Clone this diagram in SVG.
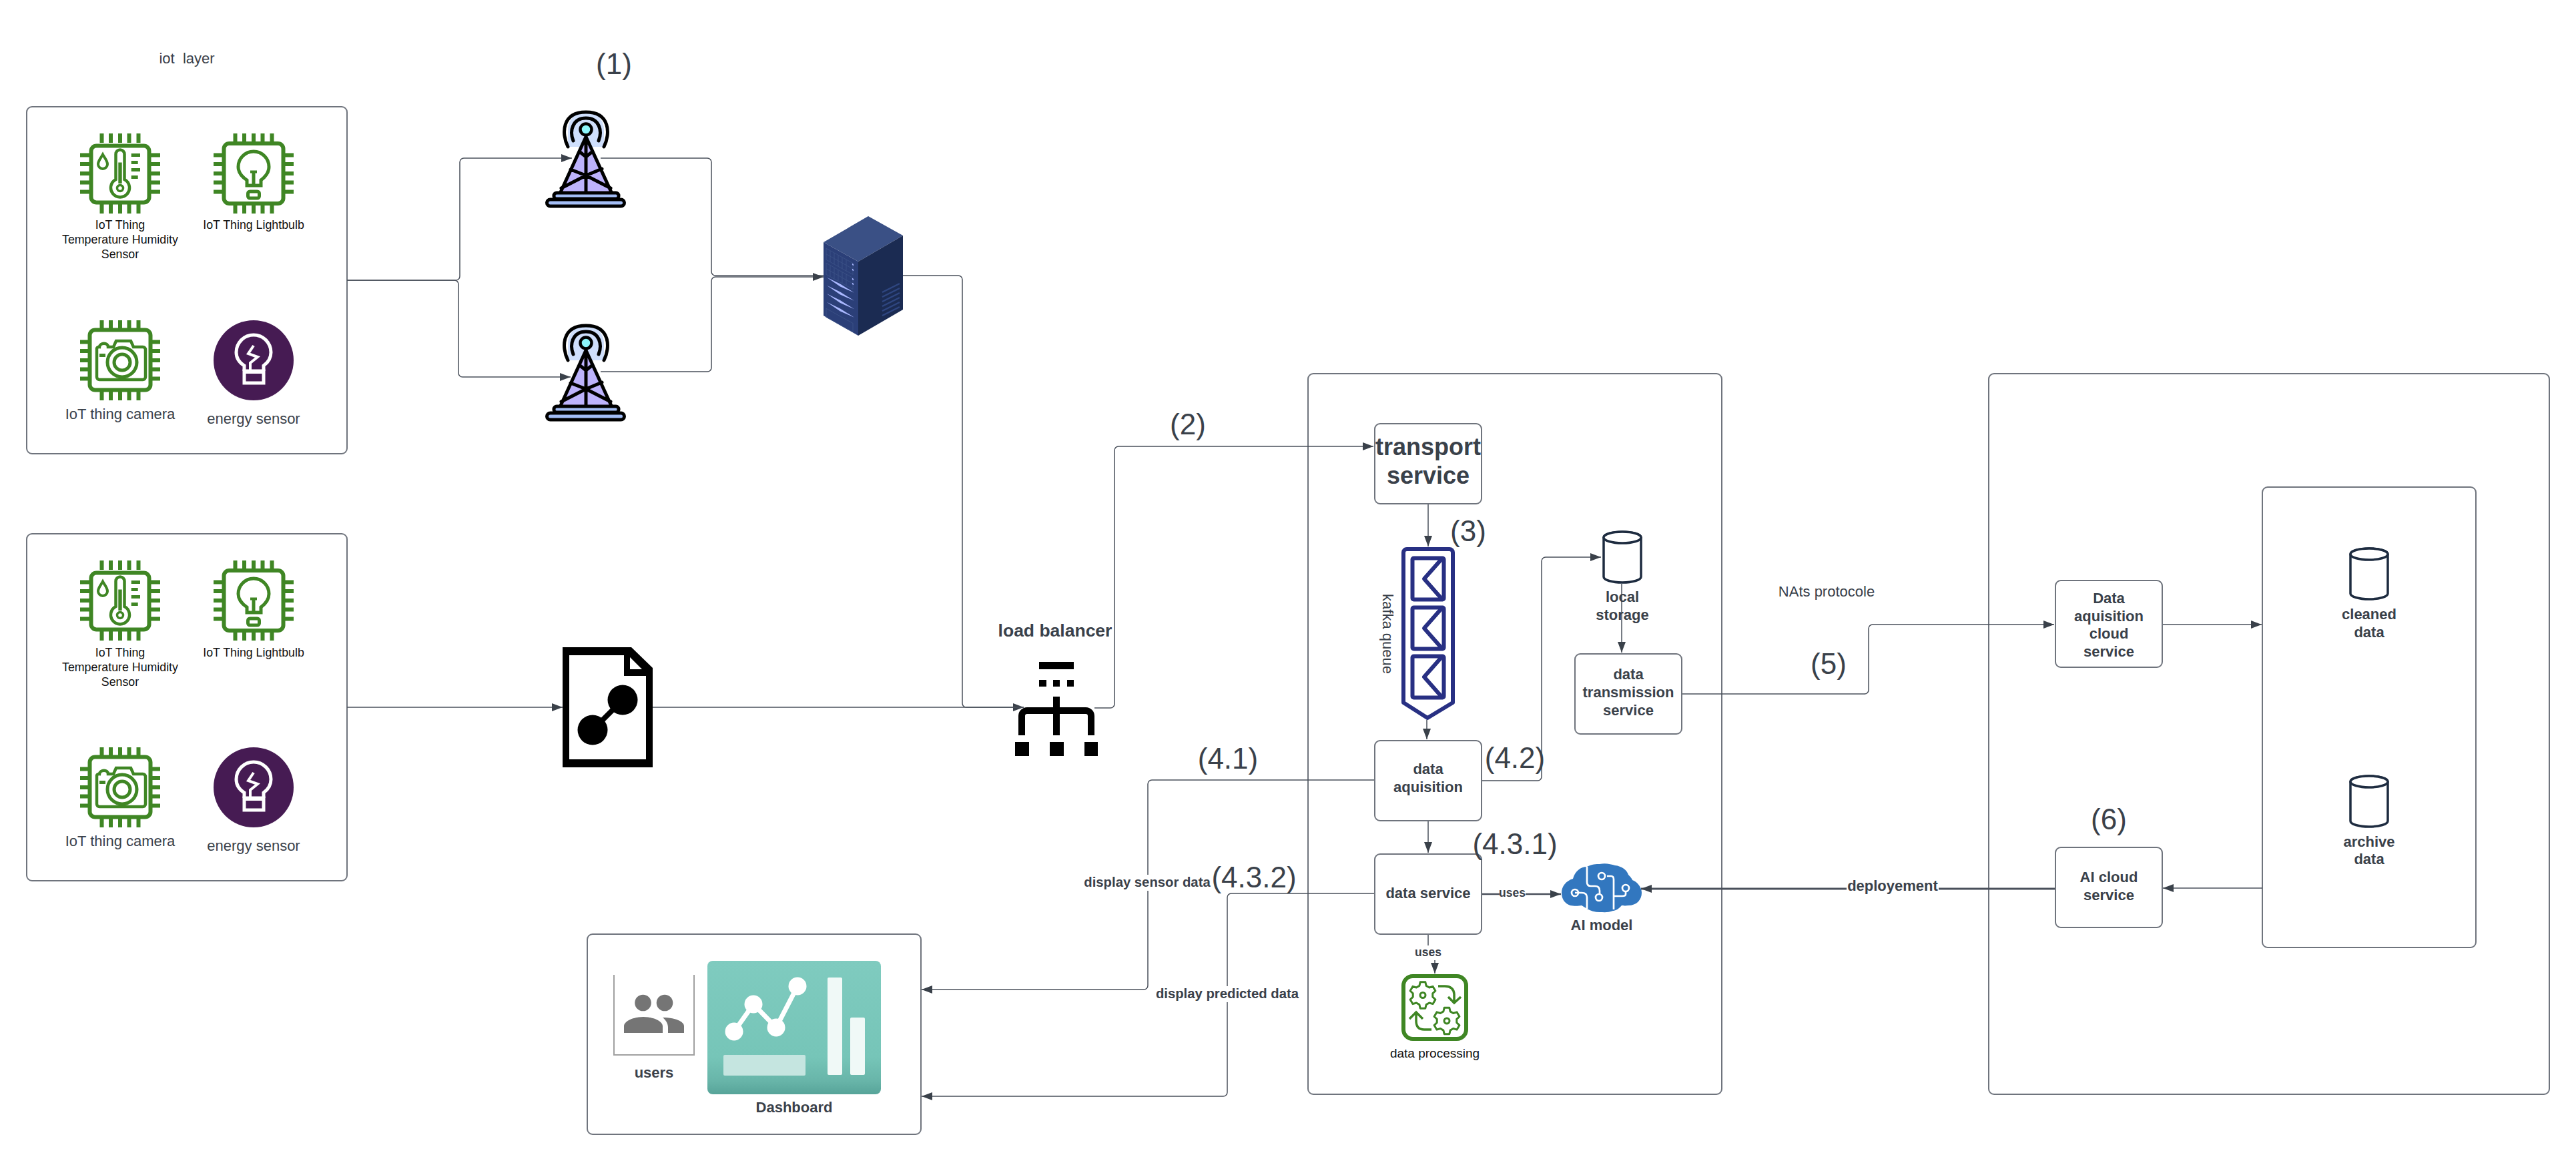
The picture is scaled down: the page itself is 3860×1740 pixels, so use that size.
<svg xmlns="http://www.w3.org/2000/svg" width="3860" height="1740" viewBox="0 0 3860 1740">
<style>
text{font-family:"Liberation Sans",Arial,sans-serif;fill:#3a414a;text-anchor:middle;white-space:pre}
.b{font-weight:700}
.s22{font-size:22px}
.s18{font-size:17.8px;fill:#111}
.n{font-size:44px}
.box{fill:#fff;stroke:#6f747d;stroke-width:2}
.conn{fill:none;stroke:#4a505b;stroke-width:1.5}
.g{fill:none;stroke:#3f8624;stroke-width:6}
.gf{fill:#3f8624}
.cyl{fill:#fff;stroke:#1e2c40;stroke-width:3.5}
.tk{fill:none;stroke:#000;stroke-width:5;stroke-linecap:round;stroke-linejoin:round}
.ky{fill:none;stroke:#283083;stroke-width:6;stroke-linejoin:round}
.w{fill:none;stroke:#fff;stroke-width:2.7}
.gear{fill:none;stroke:#3f8624;stroke-width:3;stroke-linejoin:round}
</style>
<defs>
<marker id="a" markerUnits="userSpaceOnUse" markerWidth="16" markerHeight="12" refX="16" refY="6" orient="auto"><path d="M0,0L16,6L0,12Z" fill="#3a414a"/></marker>
<linearGradient id="teal" x1="0" y1="0" x2="0" y2="1"><stop offset="0" stop-color="#7fcbbf"/><stop offset=".72" stop-color="#76c5b8"/><stop offset=".9" stop-color="#68b5a9"/><stop offset="1" stop-color="#57a499"/></linearGradient>
<g id="pins"><path class="gf" d="M29.500,0h6v14h-6zM43,0h6v14h-6zM57,0h6v14h-6zM70.500,0h6v14h-6zM84.500,0h6v14h-6zM29.500,106h6v14h-6zM43,106h6v14h-6zM57,106h6v14h-6zM70.500,106h6v14h-6zM84.500,106h6v14h-6zM0,29.500h14v6h-14zM0,43h14v6h-14zM0,57h14v6h-14zM0,70.500h14v6h-14zM0,84.500h14v6h-14zM106,29.500h14v6h-14zM106,43h14v6h-14zM106,57h14v6h-14zM106,70.500h14v6h-14zM106,84.500h14v6h-14z"/></g>
<g id="chipTemp"><use href="#pins"/><rect class="g" x="16.500" y="18.500" width="87" height="85" rx="8"/>
<path class="g" style="stroke-width:4.500" d="M53.500,69V31a6.500,6.500 0 0 1 13,0V69a14,14 0 1 1-13,0Z"/><path class="gf" d="M57.300,43.500h5.400V75h-5.400z"/><circle cx="60" cy="82" r="4.500" fill="#fff" stroke="#3f8624" stroke-width="3.500"/>
<path class="g" style="stroke-width:4" d="M34,31.500C31,37 27,41 27,46a7,7 0 0 0 14,0C41,41 37,37 34,31.500Z"/>
<path class="gf" d="M76.700,30h13.300v5h-13.300zM76.700,41h10v5h-10zM76.700,52h13.300v5h-13.300zM76.700,63h10v5h-10z"/></g>
<g id="chipBulb"><use href="#pins"/><rect class="g" x="15.500" y="15" width="89" height="90" rx="8"/>
<path class="g" style="stroke-width:5" d="M50,78V70C41,64 37,58 37,50a23,23 0 0 1 46,0C83,58 79,64 71,70V78Z"/><path class="gf" d="M55,55.500h10v4h-2.500V78h-5V59.500h-2.500z"/><rect class="g" style="stroke-width:5" x="51.500" y="87" width="17" height="10" rx="3"/></g>
<g id="chipCam"><use href="#pins"/><rect class="g" x="14.500" y="14.500" width="91" height="90" rx="8"/>
<path class="g" style="stroke-width:4.500" d="M25,42V85a4,4 0 0 0 4,4H94a4,4 0 0 0 4-4V44a4,4 0 0 0-4-4H80L76,31H54L50,40H42C42,33 30,33 29,40A4,4 0 0 0 25,42Z"/><circle class="g" style="stroke-width:5" cx="63" cy="63" r="22"/><circle class="g" style="stroke-width:5" cx="63" cy="63" r="12"/><path class="gf" d="M29,50h9v5h-9z"/></g>
<g id="energy"><circle cx="60" cy="60" r="60" fill="#461b53"/><path fill="none" stroke="#fff" stroke-width="5" d="M46,76V68C38,63 34,57 34,48a26,26 0 0 1 52,0C86,57 82,63 75,68V76"/><path fill="none" stroke="#fff" stroke-width="4" d="M60,38L52,50L66,55L55,64V74"/><rect x="46" y="76" width="29" height="18" fill="#461b53" stroke="#fff" stroke-width="5"/><path fill="#fff" d="M46,74h29v6H46z"/></g>
<g id="cyl"><path class="cyl" d="M2,10.500A28,8.500 0 0 1 58,10.500V69.500A28,8.500 0 0 1 2,69.500Z"/><ellipse class="cyl" cx="30" cy="10.500" rx="28" ry="8.500"/></g>
<g id="tower"><path fill="#cfdffc" d="M851,220V194a27,27 0 0 1 54,0V220Z"/><path fill="#bdb3fc" d="M878,205L840,288H916Z"/><circle cx="878" cy="194" r="8.500" fill="#8cf6fb" stroke="#000" stroke-width="4.500"/>
<path class="tk" d="M851,220C841,200 842,168 878,168C914,168 915,200 905,220M859,211C853,196 858,177 878,177C898,177 903,196 897,211M878,205L840,288M878,205L916,288M878,205V288M855,254L878,263L902,253M841,282L878,263L915,282M868,227L878,235L888,227"/>
<rect x="830" y="289" width="97" height="9" rx="4" fill="#a3bdf5" stroke="#000" stroke-width="5"/><rect x="819.500" y="299" width="116" height="10" rx="5" fill="#a3bdf5" stroke="#000" stroke-width="5"/></g>
<path id="gearShape" class="gear" d="M14.770,2.600L18.910,6.510L15.090,13.120L9.640,11.490L5.130,14.100L3.820,19.630L-3.820,19.630L-5.130,14.100L-9.640,11.490L-15.090,13.120L-18.910,6.510L-14.770,2.600L-14.770,-2.600L-18.910,-6.510L-15.090,-13.120L-9.640,-11.490L-5.130,-14.100L-3.820,-19.630L3.820,-19.630L5.130,-14.100L9.640,-11.490L15.090,-13.120L18.910,-6.510L14.770,-2.600Z"/>
</defs>

<rect width="3860" height="1740" fill="#fff"/>

<g id="iot-box-1"><rect class="box" x="40" y="160" width="480" height="520" rx="8"/></g>
<g id="iot-box-2"><rect class="box" x="40" y="800" width="480" height="520" rx="8"/></g>
<g id="edge-box"><rect class="box" x="1960" y="560" width="620" height="1080" rx="8"/></g>
<g id="cloud-box"><rect class="box" x="2980" y="560" width="840" height="1080" rx="8"/></g>
<g id="dashboard-box"><rect class="box" x="880" y="1400" width="500" height="300" rx="8"/></g>
<g id="storage-box"><rect class="box" x="3390" y="730" width="320" height="690" rx="8"/></g>

<g id="connectors">
<path class="conn" marker-end="url(#a)" d="M520,420H683a6,6 0 0 0 6-6V243a6,6 0 0 1 6-6H857"/>
<path class="conn" marker-end="url(#a)" d="M520,420H681a6,6 0 0 1 6,6V559a6,6 0 0 0 6,6H855"/>
<path class="conn" d="M900,237H1060a6,6 0 0 1 6,6V407a6,6 0 0 0 6,6H1234"/>
<path class="conn" marker-end="url(#a)" d="M900,557H1060a6,6 0 0 0 6-6V421a6,6 0 0 1 6-6H1234"/>
<path class="conn" marker-end="url(#a)" d="M1353,413H1436a6,6 0 0 1 6,6V1054a6,6 0 0 0 6,6H1534"/>
<path class="conn" marker-end="url(#a)" d="M520,1060H843"/>
<path class="conn" d="M978,1060H1534"/>
<path class="conn" marker-end="url(#a)" d="M1640,1061H1664a6,6 0 0 0 6-6V675a6,6 0 0 1 6-6H2058"/>
<path class="conn" marker-end="url(#a)" d="M2140,755V819"/>
<path class="conn" marker-end="url(#a)" d="M2138,1079V1108"/>
<path class="conn" marker-end="url(#a)" d="M2140,1230V1278"/>
<path class="conn" marker-end="url(#a)" d="M2220,1170H2304a6,6 0 0 0 6-6V841a6,6 0 0 1 6-6H2399"/>
<path class="conn" marker-end="url(#a)" d="M2430,875V978"/>
<path class="conn" marker-end="url(#a)" d="M2520,1040H2794a6,6 0 0 0 6-6V942a6,6 0 0 1 6-6H3078"/>
<path class="conn" marker-end="url(#a)" d="M3240,936H3389"/>
<path class="conn" marker-end="url(#a)" d="M3390,1331H3241"/>
<path class="conn" style="stroke-width:3" marker-end="url(#a)" d="M3080,1332H2459"/>
<path class="conn" style="stroke-width:2.500" marker-end="url(#a)" d="M2220,1340H2339"/>
<path class="conn" marker-end="url(#a)" d="M2140,1400V1430H2150V1459"/>
<path class="conn" marker-end="url(#a)" d="M2060,1169H1726a6,6 0 0 0-6,6V1477a6,6 0 0 1-6,6H1381"/>
<path class="conn" marker-end="url(#a)" d="M2060,1339H1845a6,6 0 0 0-6,6V1637a6,6 0 0 1-6,6H1381"/>
</g>

<text class="s22" x="280" y="95">iot  layer</text>
<g id="label-n1"><text class="n" x="920" y="111">(1)</text></g>

<g id="temp-sensor-1"><use href="#chipTemp" x="120" y="200"/><text class="s18" x="180" y="343">IoT Thing</text><text class="s18" x="180" y="365">Temperature Humidity</text><text class="s18" x="180" y="387">Sensor</text></g>
<g id="lightbulb-1"><use href="#chipBulb" x="320" y="200"/><text class="s18" x="380" y="343">IoT Thing Lightbulb</text></g>
<g id="camera-1"><use href="#chipCam" x="120" y="480"/><text class="s22" x="180" y="628">IoT thing camera</text></g>
<g id="energy-1"><use href="#energy" x="320" y="480"/><text class="s22" x="380" y="635">energy sensor</text></g>

<g id="temp-sensor-2"><use href="#chipTemp" x="120" y="840"/><text class="s18" x="180" y="984">IoT Thing</text><text class="s18" x="180" y="1006">Temperature Humidity</text><text class="s18" x="180" y="1028">Sensor</text></g>
<g id="lightbulb-2"><use href="#chipBulb" x="320" y="840"/><text class="s18" x="380" y="984">IoT Thing Lightbulb</text></g>
<g id="camera-2"><use href="#chipCam" x="120" y="1120"/><text class="s22" x="180" y="1268">IoT thing camera</text></g>
<g id="energy-2"><use href="#energy" x="320" y="1120"/><text class="s22" x="380" y="1275">energy sensor</text></g>

<g id="tower-1"><use href="#tower"/></g>
<g id="tower-2"><use href="#tower" y="320"/></g>

<g id="server">
<path fill="#3a5085" d="M1301,324L1353,353L1286,392L1234,363Z"/>
<path fill="#2b3f78" d="M1234,363L1286,392V503L1234,473Z"/>
<path fill="#1b2b52" d="M1286,392L1353,353V464L1286,503Z"/>
<g transform="matrix(1 .558 0 1 1234 363)">
<path fill="none" stroke="#3a5085" stroke-width="1" d="M4,7h40v17H4zM4,15.500h40M10,7v17M16,7v17M22,7v17M28,7v17M34,7v17M4,29h40v17H4zM4,37.500h40M10,29v17M16,29v17M22,29v17M28,29v17M34,29v17M4,97h40v13H4z"/>
<path fill="#aab8ff" d="M5,50L25,48.500L46,50L25,52.500ZM5,62L25,60.500L46,62L25,64.500ZM5,74.500L25,73L46,74.500L25,77ZM5,87L25,85.500L46,87L25,89.500Z"/>
<circle cx="44" cy="9" r="1.200" fill="#aab8ff"/><circle cx="44" cy="17" r="1.200" fill="#aab8ff"/><circle cx="44" cy="31" r="1.200" fill="#aab8ff"/><circle cx="44" cy="38" r="1.200" fill="#aab8ff"/>
</g>
<path fill="none" stroke="#2f4680" stroke-width="2.500" d="M1322,438L1348,425M1322,445L1348,432M1322,452L1348,439M1322,459L1348,446M1322,466L1348,453M1322,473L1348,460"/>
</g>

<g id="file-icon"><path fill="#000" fill-rule="evenodd" d="M843,970H946L978,1001V1150H843ZM853,982V1138H968V1013H935V982Z"/><path fill="#fff" d="M944,985L962,1003H944Z"/><path fill="none" stroke="#000" stroke-width="8" d="M888,1094L933,1049"/><ellipse cx="933" cy="1049" rx="22.500" ry="22.500" fill="#000"/><ellipse cx="888" cy="1094" rx="22.500" ry="22.500" fill="#000"/></g>

<g id="load-balancer"><text class="s22 b" style="font-size:26.500px" x="1581" y="954">load balancer</text>
<path fill="#000" d="M1557,992h52v11h-52zM1557,1019h11v10h-11zM1578,1019h10v10h-10zM1599,1019h10v10h-10zM1578,1044h10v16h-10zM1521,1112h21v21h-21zM1573,1112h21v21h-21zM1625,1112h20v21h-20zM1578,1060h10v42h-10z"/>
<path fill="none" stroke="#000" stroke-width="10" d="M1531,1102V1073a8,8 0 0 1 8-8H1627a8,8 0 0 1 8,8V1102"/></g>

<g id="label-n2"><text class="n" x="1780" y="651">(2)</text></g>
<g id="transport"><rect class="box" x="2060" y="635" width="160" height="120" rx="8"/><text class="b" style="font-size:36px" x="2140" y="682">transport</text><text class="b" style="font-size:36px" x="2140" y="725">service</text></g>
<g id="label-n3"><text class="n" x="2200" y="811">(3)</text></g>
<g id="kafka"><path class="ky" d="M2108,823H2172a5,5 0 0 1 5,5V1053L2139,1076L2103,1053V828a5,5 0 0 1 5-5Z"/>
<rect class="ky" x="2116.500" y="836.500" width="47" height="62" rx="2"/><path class="ky" d="M2160,838L2134,867.500L2160,897"/>
<rect class="ky" x="2116.500" y="910.500" width="47" height="62" rx="2"/><path class="ky" d="M2160,912L2134,941.500L2160,971"/>
<rect class="ky" x="2116.500" y="983.500" width="47" height="62" rx="2"/><path class="ky" d="M2160,985L2134,1014.500L2160,1044"/>
<text class="s22" transform="translate(2072,950) rotate(90)" x="0" y="0">kafka queue</text></g>
<g id="acquisition"><rect class="box" x="2060" y="1110" width="160" height="120" rx="8"/><text class="s22 b" x="2140" y="1160">data</text><text class="s22 b" x="2140" y="1187">aquisition</text></g>
<g id="label-n42"><text class="n" x="2270" y="1151">(4.2)</text></g>
<g id="local-storage"><use href="#cyl" x="2401" y="795"/><text class="s22 b" x="2431" y="902">local</text><text class="s22 b" x="2431" y="929">storage</text></g>
<g id="transmission"><rect class="box" x="2360" y="980" width="160" height="120" rx="8"/><text class="s22 b" x="2440" y="1018">data</text><text class="s22 b" x="2440" y="1045">transmission</text><text class="s22 b" x="2440" y="1072">service</text></g>
<g id="data-service"><rect class="box" x="2060" y="1280" width="160" height="120" rx="8"/><text class="s22 b" x="2140" y="1346">data service</text></g>
<g id="label-n431"><text class="n" x="2270" y="1280">(4.3.1)</text></g>
<g id="label-n41"><text class="n" x="1840" y="1152">(4.1)</text></g>
<g id="label-n432"><text class="n" x="1879" y="1330">(4.3.2)</text></g>

<g id="ai-model"><path fill="#3277bf" d="M2340,1338C2340,1328 2347,1320 2357,1317C2360,1306 2368,1299 2378,1299C2385,1295 2392,1295 2397,1295C2405,1293 2414,1295 2420,1297C2430,1298 2438,1304 2440,1311C2444,1315 2446,1318 2446,1319C2454,1322 2460,1330 2460,1338C2460,1349 2452,1357 2440,1357C2434,1358 2431,1357 2430,1357C2425,1363 2420,1365 2417,1365C2410,1368 2403,1367 2397,1367C2390,1367 2383,1365 2378,1362C2375,1360 2372,1358 2370,1357C2365,1358 2358,1358 2353,1357C2345,1354 2340,1348 2340,1338Z"/>
<path class="w" d="M2378,1299V1322Q2378,1328 2384,1328H2390Q2397,1328 2397,1335V1340M2360,1338H2370Q2378,1338 2378,1345V1362M2408,1313H2414Q2418,1313 2418,1318V1363M2436,1336V1340Q2436,1343 2431,1343H2419"/>
<circle class="w" cx="2360" cy="1338" r="5"/><circle class="w" cx="2396" cy="1345" r="5"/><circle class="w" cx="2400" cy="1313" r="5"/><circle class="w" cx="2436" cy="1331" r="5"/>
<text class="s22 b" x="2400" y="1394">AI model</text></g>

<g id="data-processing"><rect x="2103" y="1463" width="94" height="94" rx="14" fill="#fff" stroke="#3f8624" stroke-width="6"/>
<use href="#gearShape" transform="translate(2132,1491.500)"/><circle cx="2132" cy="1491.500" r="4" fill="none" stroke="#3f8624" stroke-width="3"/>
<use href="#gearShape" transform="translate(2168,1530)"/><circle cx="2168" cy="1530" r="4" fill="none" stroke="#3f8624" stroke-width="3"/>
<path fill="none" stroke="#3f8624" stroke-width="3.500" d="M2155,1478H2165Q2178,1478 2179,1490V1503M2170,1494L2179,1503L2189,1494M2145,1543H2134Q2122,1543 2122,1530V1518M2112,1527L2122,1517L2132,1527"/>
<text style="font-size:19px;fill:#111" x="2150" y="1585">data processing</text></g>

<g id="users"><path fill="none" stroke="#a0a0a0" stroke-width="2" d="M920,1461V1581H1040V1461"/><circle cx="963.500" cy="1503" r="12.300" fill="#757575"/><circle cx="996" cy="1503" r="12.300" fill="#757575"/><path fill="#757575" d="M935,1548V1538C935,1530 950,1524 964,1524C978,1524 993,1530 993,1538V1548ZM993,1525C1012,1525 1025,1531 1025,1538V1548H1001V1540C1001,1534 998,1529 993,1525Z"/><text class="s22 b" x="980" y="1615">users</text></g>

<g id="dashboard"><rect x="1060" y="1440" width="260" height="200" rx="8" fill="url(#teal)"/>
<path fill="none" stroke="#fff" stroke-width="7" d="M1100,1546L1129,1505L1163,1540L1195,1478"/>
<circle cx="1100" cy="1546" r="13.500" fill="#fff"/><circle cx="1129" cy="1505" r="13.500" fill="#fff"/><circle cx="1163" cy="1540" r="13.500" fill="#fff"/><circle cx="1195" cy="1478" r="13.500" fill="#fff"/>
<rect x="1240" y="1465" width="22" height="146" rx="2" fill="#f0f9f7"/><rect x="1274" y="1525" width="22" height="86" rx="2" fill="#f0f9f7"/><rect x="1084" y="1581" width="123" height="31" rx="2" fill="#c5e5e0"/>
<text class="s22 b" x="1190" y="1667">Dashboard</text></g>

<g id="nats-label"><text class="s22" x="2737" y="894">NAts protocole</text></g>
<g id="label-n5"><text class="n" x="2740" y="1010">(5)</text></g>
<g id="cloud-acq"><rect class="box" x="3080" y="870" width="160" height="130" rx="8"/><text class="s22 b" x="3160" y="904">Data</text><text class="s22 b" x="3160" y="931">aquisition</text><text class="s22 b" x="3160" y="957">cloud</text><text class="s22 b" x="3160" y="984">service</text></g>
<g id="label-n6"><text class="n" x="3160" y="1243">(6)</text></g>
<g id="ai-cloud"><rect class="box" x="3080" y="1270" width="160" height="120" rx="8"/><text class="s22 b" x="3160" y="1322">AI cloud</text><text class="s22 b" x="3160" y="1349">service</text></g>
<g id="cleaned"><use href="#cyl" x="3520" y="820"/><text class="s22 b" x="3550" y="928">cleaned</text><text class="s22 b" x="3550" y="955">data</text></g>
<g id="archive"><use href="#cyl" x="3520" y="1161"/><text class="s22 b" x="3550" y="1269">archive</text><text class="s22 b" x="3550" y="1295">data</text></g>

<g id="connector-labels">
<rect x="2767" y="1320" width="138" height="24" fill="#fff"/><text class="s22 b" x="2836" y="1335">deployement</text>
<rect x="2247" y="1328" width="39" height="22" fill="#fff"/><text class="b" style="font-size:17.500px" x="2266" y="1344">uses</text>
<rect x="2120" y="1417" width="40" height="22" fill="#fff"/><text class="b" style="font-size:17.500px" x="2140" y="1433">uses</text>
<rect x="1625" y="1311" width="190" height="24" fill="#fff"/><text class="b" style="font-size:20.300px" x="1719" y="1329">display sensor data</text>
<rect x="1734" y="1478" width="211" height="24" fill="#fff"/><text class="b" style="font-size:20.300px" x="1839" y="1496">display predicted data</text>
</g>
</svg>
